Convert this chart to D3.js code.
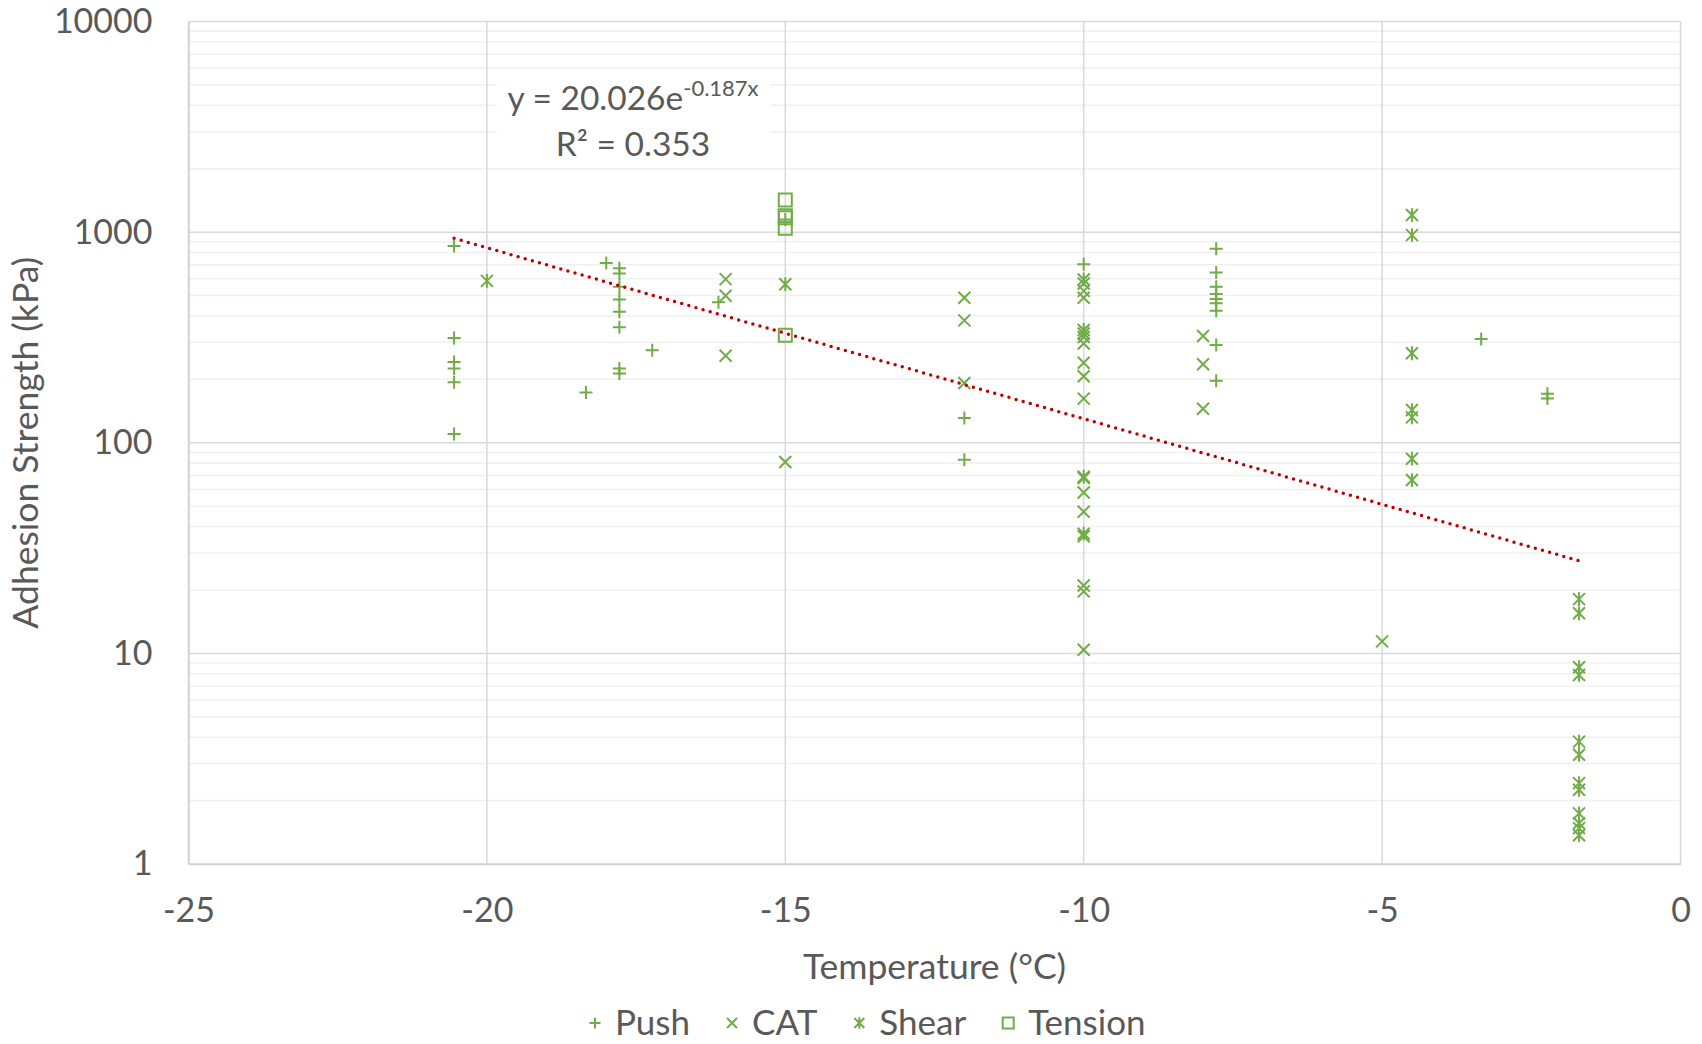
<!DOCTYPE html>
<html>
<head>
<meta charset="utf-8">
<script src="https://cdn.jsdelivr.net/npm/d3@7"></script>
<style>
  body { margin: 0; background: #fff; }
  svg text { font-family: Lato, "Open Sans", sans-serif; fill: #595959; }
</style>
</head>
<body>
<div id="chart"></div>
<script>
// data (temperature in °C, adhesion strength in kPa)
const pushX = [-20.55, -20.55, -20.55, -20.55, -20.55, -20.55, -18.34, -18.0,
  -17.78, -17.78, -17.78, -17.78, -17.78, -17.78, -17.78, -17.78,
  -17.23, -16.12, -15.0, -12, -12, -10,
  -7.78, -7.78, -7.78, -7.78, -7.78, -7.78, -7.78, -7.78, -7.78,
  -3.34, -2.23, -2.23];
const pushY = [860, 314, 242, 225, 194, 110, 173, 714,
  673, 637, 550, 479, 419, 353, 225, 213,
  275, 465, 1148, 131, 83, 703,
  833, 644, 550, 508, 481, 459, 423, 291, 197,
  311, 171, 162];

const catX = [-16, -16, -16, -15, -12, -12, -12,
  -10, -10, -10, -10, -10, -10, -10, -10, -10, -10, -10, -10, -10, -10, -10, -10,
  -8, -8, -8, -5];
const catY = [598, 499, 259, 81, 488, 381, 192,
  570, 526, 488, 330, 318, 296, 240, 207, 162, 68, 58, 47, 36, 21, 19.7, 10.4,
  321, 236, 145, 11.4];

const shearX = [-20, -15, -10, -10, -10, -10,
  -4.5, -4.5, -4.5, -4.5, -4.5, -4.5, -4.5,
  -1.7, -1.7, -1.7, -1.7, -1.7, -1.7, -1.7, -1.7, -1.7, -1.7, -1.7, -1.7];
const shearY = [587, 566, 596, 343, 69, 37,
  1205, 968, 266, 143, 132, 84, 66.5,
  18.1, 15.5, 8.6, 7.9, 3.81, 3.30, 2.42, 2.25, 1.74, 1.56, 1.48, 1.37];

const tensionX = [-15, -15, -15, -15, -15];
const tensionY = [1419, 1195, 1170, 1042, 324];

// exponential trendline y = a * e^(b x)
const trendA = 20.026;
const trendB = -0.187;
const trendR2 = 0.353;

const xTicks = [-25, -20, -15, -10, -5, 0];
const yTicks = [1, 10, 100, 1000, 10000];

const width = 1702, height = 1044;
const plotL = 188.5, plotR = 1680.5, plotT = 21.5, plotB = 864;
const green = "#70ad47";

const svg = d3.select("#chart").append("svg")
  .attr("width", width)
  .attr("height", height);

const x = d3.scaleLinear().domain([-25, 0]).range([plotL, plotR]);
const y = d3.scaleLog().domain([1, 10000]).range([plotB, plotT]);

// minor gridlines (2..9 in each decade)
const minor = [];
yTicks.slice(0, -1).forEach(d => { for (let k = 2; k <= 9; k++) minor.push(d * k); });
svg.append("g").selectAll("line").data(minor).enter().append("line")
  .attr("x1", plotL).attr("x2", plotR)
  .attr("y1", d => y(d)).attr("y2", d => y(d))
  .attr("stroke", "#f0f0f0").attr("stroke-width", 1.5);

// major gridlines
svg.append("g").selectAll("line").data(yTicks).enter().append("line")
  .attr("x1", plotL).attr("x2", plotR)
  .attr("y1", d => y(d)).attr("y2", d => y(d))
  .attr("stroke", "#d9d9d9").attr("stroke-width", 1.5);
svg.append("g").selectAll("line").data(xTicks).enter().append("line")
  .attr("x1", d => x(d)).attr("x2", d => x(d))
  .attr("y1", plotT).attr("y2", plotB)
  .attr("stroke", "#d9d9d9").attr("stroke-width", 1.5);

// axes (labels only, Excel style), plain hyphen for negatives
const xAxis = svg.append("g")
  .attr("transform", `translate(0,${plotB})`)
  .call(d3.axisBottom(x).tickValues(xTicks).tickFormat(d => String(d)).tickSize(0).tickPadding(34));
xAxis.select(".domain").attr("stroke", "#d0d0d0").attr("stroke-width", 1.5);
xAxis.selectAll("text").style("font-size", "34px").attr("fill", "#595959");

const yAxis = svg.append("g")
  .attr("transform", `translate(${plotL},0)`)
  .call(d3.axisLeft(y).tickValues(yTicks).tickFormat(d => String(d)).tickSize(0).tickPadding(36));
yAxis.select(".domain").attr("stroke", "#d0d0d0").attr("stroke-width", 1.5);
yAxis.selectAll("text").style("font-size", "34px").attr("fill", "#595959");

// axis titles
svg.append("text")
  .attr("x", (plotL + plotR) / 2).attr("y", 979)
  .attr("text-anchor", "middle")
  .style("font-size", "35.5px")
  .text("Temperature (°C)");
svg.append("text")
  .attr("transform", `translate(38,${(plotT + plotB) / 2}) rotate(-90)`)
  .attr("text-anchor", "middle")
  .style("font-size", "35.5px")
  .text("Adhesion Strength (kPa)");

// marker shapes
function plusPath(r) { return `M${-r},0H${r}M0,${-r}V${r}`; }
function timesPath(r) { return `M${-r},${-r}L${r},${r}M${-r},${r}L${r},${-r}`; }
function starPath(r) { return timesPath(r) + `M0,${-r * 1.15}V${r * 1.15}`; }
function squarePath(r) { return `M${-r},${-r}H${r}V${r}H${-r}Z`; }

const series = [
  { name: "Push", xs: pushX, ys: pushY, path: plusPath(6.5), leg: plusPath(5.5) },
  { name: "CAT", xs: catX, ys: catY, path: timesPath(6), leg: timesPath(5) },
  { name: "Shear", xs: shearX, ys: shearY, path: starPath(6), leg: starPath(5) },
  { name: "Tension", xs: tensionX, ys: tensionY, path: squarePath(6.5), leg: squarePath(5.5) }
];

// trendline points over the data range
const xMin = d3.min(series, s => d3.min(s.xs));
const xMax = d3.max(series, s => d3.max(s.xs));
const trendPts = d3.range(0, 101).map(i => {
  const t = xMin + (xMax - xMin) * i / 100;
  return [t, trendA * Math.exp(trendB * t)];
});

series.forEach(s => {
  svg.append("g").selectAll("path")
    .data(s.xs.map((d, i) => [d, s.ys[i]]))
    .enter().append("path")
    .attr("d", s.path)
    .attr("transform", d => `translate(${x(d[0])},${y(d[1])})`)
    .attr("fill", "none")
    .attr("stroke", green)
    .attr("stroke-width", 2);
});

svg.append("path")
  .datum(trendPts)
  .attr("d", d3.line().x(d => x(d[0])).y(d => y(d[1])))
  .attr("fill", "none")
  .attr("stroke", "#c00000")
  .attr("stroke-width", 3.5)
  .attr("stroke-linecap", "round")
  .attr("stroke-dasharray", "0,7.4");

// trendline label
svg.append("rect")
  .attr("x", 497).attr("y", 74).attr("width", 273).attr("height", 90)
  .attr("fill", "#fff");
const eq = svg.append("text")
  .attr("x", 633).attr("y", 110)
  .attr("text-anchor", "middle")
  .style("font-size", "33.5px");
eq.append("tspan").text(`y = ${trendA}e`);
eq.append("tspan").attr("dy", -14).style("font-size", "22px").text(`${trendB}x`);
svg.append("text")
  .attr("x", 633).attr("y", 156)
  .attr("text-anchor", "middle")
  .style("font-size", "33.5px")
  .text(`R² = ${trendR2}`);

// legend
const legend = svg.append("g").attr("transform", "translate(0,1023)");
let lx = 595;
series.forEach(s => {
  legend.append("path")
    .attr("d", s.leg)
    .attr("transform", `translate(${lx},0)`)
    .attr("fill", "none")
    .attr("stroke", green)
    .attr("stroke-width", 2);
  const t = legend.append("text")
    .attr("x", lx + 20).attr("y", 0)
    .attr("dy", "0.34em")
    .style("font-size", "35px")
    .text(s.name);
  lx = lx + 20 + t.node().getComputedTextLength() + 42;
});
</script>
</body>
</html>
